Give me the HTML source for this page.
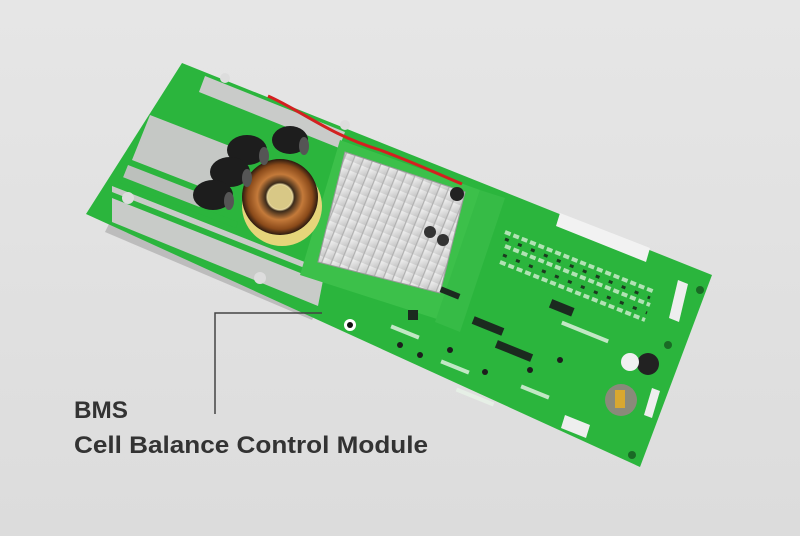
<!DOCTYPE html>
<html><head><meta charset="utf-8"><style>
html,body{margin:0;padding:0;background:#e4e4e4;}
svg{display:block}
</style></head><body>
<svg width="800" height="536" viewBox="0 0 800 536" xmlns="http://www.w3.org/2000/svg">
<defs>
<linearGradient id="bg" x1="0" y1="0" x2="0" y2="1"><stop offset="0" stop-color="#e6e6e6"/><stop offset="1" stop-color="#dcdcdc"/></linearGradient>
<radialGradient id="tor" cx="0.5" cy="0.5" r="0.5"><stop offset="0.33" stop-color="#e8d9a0"/><stop offset="0.38" stop-color="#3a2a1a"/><stop offset="0.6" stop-color="#c47a3a"/><stop offset="0.85" stop-color="#8a4a1a"/><stop offset="1" stop-color="#2a1a10"/></radialGradient>
<linearGradient id="hs" x1="0" y1="0" x2="1" y2="1"><stop offset="0" stop-color="#f4f4f4"/><stop offset="1" stop-color="#c4c4c4"/></linearGradient>
<pattern id="fins" width="9" height="9" patternUnits="userSpaceOnUse" patternTransform="rotate(22)"><rect width="9" height="9" fill="url(#hs)"/><rect width="1.2" height="9" fill="#b0b0b0"/></pattern>
</defs>
<rect width="800" height="536" fill="url(#bg)"/>
<polygon points="110,222 318,308 312,320 105,232" fill="#bcbcbc"/>
<polygon points="182,63 712,275 640,467 86,214" fill="#2bb53d"/>
<polygon points="205,76 345,132 339,148 199,92" fill="#c9cbc9"/>
<polygon points="150,115 240,150 222,195 132,160" fill="#c5c8c5"/>
<polygon points="128,165 205,195 198,210 122,180" fill="#bcc0bc"/>
<polygon points="112,186 325,270 318,306 112,222" fill="#c8cbc8"/>
<polygon points="112,192 325,276 323,282 112,198" fill="#2bb53d"/>
<polygon points="120,176 238,222 236,228 118,182" fill="#2bb53d"/>
<circle cx="128" cy="198" r="6" fill="#ddd"/><circle cx="260" cy="278" r="6" fill="#ddd"/><circle cx="345" cy="125" r="5" fill="#ddd"/><circle cx="225" cy="78" r="5" fill="#ddd"/>
<polygon points="340,140 480,190 440,320 300,275" fill="#3cc04a"/>
<polygon points="480,190 505,198 460,332 435,322" fill="#36bb46"/>
<circle cx="282" cy="206" r="40" fill="#e5d57a"/>
<circle cx="280" cy="197" r="38" fill="url(#tor)"/>
<circle cx="280" cy="197" r="12" fill="#d8c886"/>
<g fill="#1d1d1d">
<ellipse cx="290" cy="140" rx="18" ry="14"/>
<ellipse cx="247" cy="150" rx="20" ry="15"/>
<ellipse cx="230" cy="172" rx="20" ry="15"/>
<ellipse cx="213" cy="195" rx="20" ry="15"/>
</g>
<g fill="#555"><ellipse cx="304" cy="146" rx="5" ry="9"/><ellipse cx="264" cy="156" rx="5" ry="9"/><ellipse cx="247" cy="178" rx="5" ry="9"/><ellipse cx="229" cy="201" rx="5" ry="9"/></g>
<polygon points="345,152 465,192 440,293 318,262" fill="url(#fins)" stroke="#9a9a9a" stroke-width="1"/>
<path d="M268,96 C300,110 330,135 380,150 C420,165 440,175 462,184" stroke="#d32020" stroke-width="3" fill="none"/>
<circle cx="457" cy="194" r="7" fill="#222"/><circle cx="430" cy="232" r="6" fill="#333"/><circle cx="443" cy="240" r="6" fill="#333"/>
<polygon points="560,213 650,248 646,262 556,226" fill="#f2f2f2"/>
<polygon points="678,280 688,284 679,322 669,318" fill="#eeeeee"/>
<polygon points="565,415 590,425 586,438 561,428" fill="#eee"/>
<polygon points="652,388 660,391 652,418 644,415" fill="#eee"/>
<g stroke="#c9ebc9" stroke-width="4" stroke-dasharray="6 3" opacity="0.85">
<line x1="505" y1="232" x2="655" y2="292"/>
<line x1="505" y1="246" x2="650" y2="305"/>
<line x1="500" y1="262" x2="645" y2="320"/>
</g>
<g stroke="#1b3a1f" stroke-width="3" stroke-dasharray="4 10">
<line x1="505" y1="239" x2="650" y2="298"/>
<line x1="503" y1="255" x2="647" y2="313"/>
</g>
<g fill="#1b2a1f">
<rect x="550" y="303" width="24" height="9" transform="rotate(22 561 307)"/>
<rect x="472" y="322" width="32" height="8" transform="rotate(22 488 326)"/>
<rect x="495" y="347" width="38" height="8" transform="rotate(22 514 351)"/>
<rect x="440" y="290" width="20" height="6" transform="rotate(22 450 293)"/>
<rect x="408" y="310" width="10" height="10"/>
</g>
<g fill="#e8f4e8" opacity="0.8">
<rect x="390" y="330" width="30" height="4" transform="rotate(22 405 332)"/>
<rect x="440" y="365" width="30" height="4" transform="rotate(22 455 367)"/>
<rect x="520" y="390" width="30" height="4" transform="rotate(22 535 392)"/>
<rect x="455" y="395" width="40" height="4" transform="rotate(22 475 397)"/>
<rect x="560" y="330" width="50" height="4" transform="rotate(22 585 332)"/>
</g>
<g fill="#1d1d1d"><circle cx="400" cy="345" r="3"/><circle cx="420" cy="355" r="3"/><circle cx="450" cy="350" r="3"/><circle cx="485" cy="372" r="3"/><circle cx="530" cy="370" r="3"/><circle cx="560" cy="360" r="3"/></g>
<circle cx="648" cy="364" r="11" fill="#222"/>
<circle cx="630" cy="362" r="9" fill="#f0f0f0"/>
<circle cx="621" cy="400" r="16" fill="#8a8a7a"/>
<rect x="615" y="390" width="10" height="18" fill="#d8a830"/>
<circle cx="350" cy="325" r="6" fill="#fff"/><circle cx="350" cy="325" r="3" fill="#111"/>
<circle cx="632" cy="455" r="4" fill="#1a6a25"/><circle cx="668" cy="345" r="4" fill="#1a6a25"/><circle cx="700" cy="290" r="4" fill="#1a6a25"/>
<polyline points="322,313 215,313 215,414" fill="none" stroke="#444" stroke-width="1.5"/>
<text x="74" y="418" font-family="Liberation Sans, sans-serif" font-size="24" font-weight="bold" fill="#333" textLength="54" lengthAdjust="spacingAndGlyphs">BMS</text>
<text x="74" y="453" font-family="Liberation Sans, sans-serif" font-size="24" font-weight="bold" fill="#333" textLength="354" lengthAdjust="spacingAndGlyphs">Cell Balance Control Module</text>
</svg>
</body></html>
